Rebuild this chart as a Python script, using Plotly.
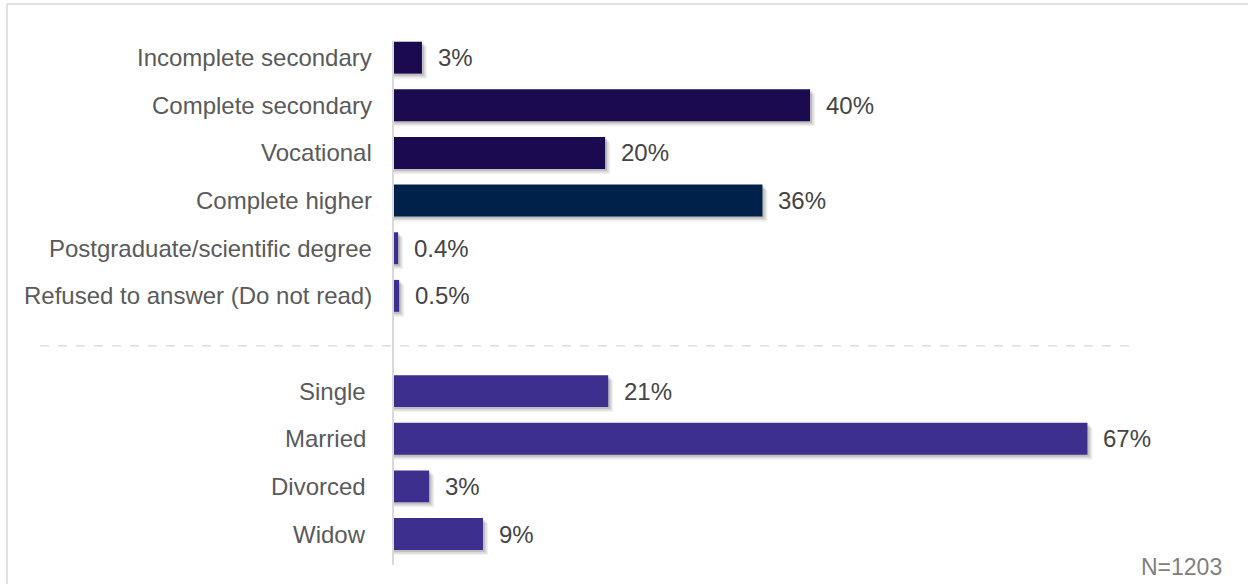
import plotly.graph_objects as go

categories = ["Incomplete secondary", "Complete secondary", "Vocational", "Complete higher",
              "Postgraduate/scientific degree", "Refused to answer (Do not read)",
              "Single", "Married", "Divorced", "Widow"]
positions = [0, 1, 2, 3, 4, 5, 7, 8, 9, 10]
values = [2.7, 40.2, 20.4, 35.6, 0.4, 0.5, 20.7, 67.0, 3.4, 8.6]
value_labels = ["3%", "40%", "20%", "36%", "0.4%", "0.5%", "21%", "67%", "3%", "9%"]
colors = ["#1B0A4F", "#1B0A4F", "#1B0A4F", "#00214A", "#3C2F8E", "#3C2F8E",
          "#3C2F8E", "#3C2F8E", "#3C2F8E", "#3C2F8E"]
group_break = 6.05
sample_note = "N=1203"

W, H = 1248, 584
ML, MR, MT, MB = 394, 68, 41, 19
plot_w = W - ML - MR
plot_h = H - MT - MB
px_per_unit = 10.35
xmax = plot_w / px_per_unit
y_lo, y_hi = -0.35, 10.65
px_per_slot = plot_h / (y_hi - y_lo)
FONT = "Liberation Sans, Arial"

fig = go.Figure()

# soft shadows
for k, alpha in [(5, 0.08), (3.5, 0.12), (2, 0.16)]:
    fig.add_trace(go.Bar(
        y=[p + k / px_per_slot for p in positions],
        x=[v + k / px_per_unit for v in values],
        orientation="h", width=0.67,
        marker=dict(color=f"rgba(60,60,60,{alpha})", line=dict(width=0)),
        hoverinfo="skip", showlegend=False))

fig.add_trace(go.Bar(
    y=positions, x=values, orientation="h", width=0.67,
    marker=dict(color=colors, line=dict(width=0)),
    showlegend=False))

annotations = []
for p, v, t in zip(positions, values, value_labels):
    annotations.append(dict(x=v, y=p, xref="x", yref="y", text=t, showarrow=False,
                            xanchor="left", xshift=14,
                            font=dict(family=FONT, size=24, color="#444444")))
for p, c in zip(positions, categories):
    shift = -20 if p < group_break else -26
    annotations.append(dict(x=0, y=p, xref="paper", yref="y", text=c, showarrow=False,
                            xanchor="right", xshift=shift,
                            font=dict(family=FONT, size=24, color="#5A5A5A")))
annotations.append(dict(x=(1224 - ML) / plot_w, y=(H - MB - 567) / plot_h,
                        xref="paper", yref="paper", text=sample_note, showarrow=False,
                        xanchor="right", yanchor="middle",
                        font=dict(family=FONT, size=23, color="#808080")))

shapes = [
    dict(type="line", xref="paper", yref="y",
         x0=(40 - ML) / plot_w, x1=(1132 - ML) / plot_w, y0=group_break, y1=group_break,
         line=dict(color="#D6D6D6", width=1.2, dash="dash")),
    dict(type="line", xref="paper", yref="paper",
         x0=(7 - ML) / plot_w, x1=(W + 5 - ML) / plot_w,
         y0=(H - MB - 4) / plot_h, y1=(H - MB - 4) / plot_h,
         line=dict(color="#D6D6D6", width=1.5)),
    dict(type="line", xref="paper", yref="paper",
         x0=(7 - ML) / plot_w, x1=(7 - ML) / plot_w,
         y0=(H - MB - 4) / plot_h, y1=-(MB + 5) / plot_h,
         line=dict(color="#D6D6D6", width=1.5)),
]

fig.update_layout(
    width=W, height=H,
    margin=dict(l=ML, r=MR, t=MT, b=MB),
    barmode="overlay",
    plot_bgcolor="white", paper_bgcolor="white",
    xaxis=dict(range=[0, xmax], visible=False, fixedrange=True),
    yaxis=dict(range=[y_hi, y_lo], showticklabels=False, showgrid=False, zeroline=False,
               showline=True, linecolor="#D9D9D9", linewidth=2, ticks=""),
    annotations=annotations, shapes=shapes,
    font=dict(family=FONT),
)

fig.write_html("out.html")
